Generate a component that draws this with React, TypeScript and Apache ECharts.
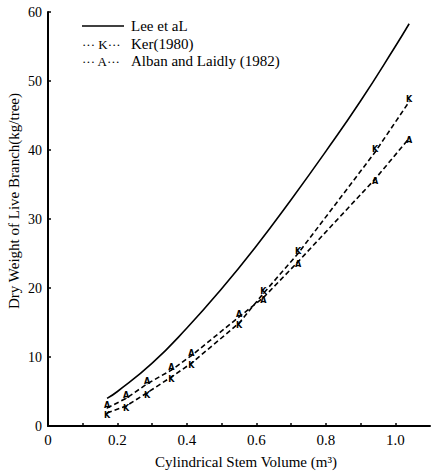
import React, { useEffect, useRef } from "react";
import * as echarts from "echarts";

const leeX = [0.17, 0.2, 0.3, 0.4, 0.5, 0.6, 0.7, 0.8, 0.9, 1.0, 1.04];
const leeValues = [4.0, 5.0, 9.1, 14.2, 19.9, 26.1, 32.8, 39.8, 47.1, 55.0, 58.3];

const sampleX = [0.17, 0.225, 0.285, 0.355, 0.413, 0.55, 0.62, 0.72, 0.942, 1.04];
const kerValues = [1.9, 2.9, 4.8, 7.1, 9.1, 14.9, 19.2, 25.0, 39.7, 47.0];
const albanValues = [2.6, 4.0, 6.1, 8.1, 10.2, 15.8, 18.6, 23.8, 35.8, 41.7];

const xTickLabels = ["0", "0.2", "0.4", "0.6", "0.8", "1.0"];
const yTickLabels = ["0", "10", "20", "30", "40", "50", "60"];

const seriesNames = ["Lee et aL", "Ker(1980)", "Alban and Laidly (1982)"];
const markerLetters = ["K", "A"];

const xName = "Cylindrical Stem Volume (m³)";
const yName = "Dry Weight of Live Branch(kg/tree)";

const SERIF = "Liberation Serif, DejaVu Serif, serif";

export default function App() {
  const ref = useRef<HTMLDivElement>(null);
  useEffect(() => {
    if (!ref.current) return;
    const chart = echarts.init(ref.current, null, { renderer: "svg" });
    const dashedSeries = (name: string, ys: number[], other: number[], letter: string) => ({
      name,
      type: "line",
      data: sampleX.map((x, i) => ({
        value: [x, ys[i]],
        label: { offset: [0, ys[i] >= other[i] ? -2.5 : 2.5] },
      })),
      symbol: "circle",
      symbolSize: 1,
      itemStyle: { color: "#000" },
      lineStyle: { color: "#000", width: 1.6, type: [5, 3] },
      label: {
        show: true,
        position: "inside",
        formatter: letter,
        fontSize: 8,
        fontWeight: "bold",
        fontFamily: "DejaVu Sans, sans-serif",
        color: "#000",
      },
      z: 3,
    });
    chart.setOption({
      animation: false,
      backgroundColor: "#fff",
      grid: { left: 48, right: 1, top: 12, bottom: 46 },
      xAxis: {
        type: "value",
        min: 0,
        max: 1.1,
        interval: 0.1,
        name: xName,
        nameLocation: "middle",
        nameGap: 28,
        nameTextStyle: { fontFamily: SERIF, fontSize: 15, color: "#000", padding: [0, 0, 0, 14] },
        axisLine: { show: true, lineStyle: { color: "#000", width: 2 } },
        axisTick: { show: true, inside: true, length: 3, lineStyle: { color: "#000", width: 1.5 } },
        axisLabel: {
          color: "#000",
          fontFamily: SERIF,
          fontSize: 15,
          margin: 6,
          showMaxLabel: false,
          formatter: (v: number) => {
            const k = Math.round(v * 10);
            if (k % 2 !== 0 || k > 10) return "";
            return xTickLabels[k / 2];
          },
        },
        splitLine: { show: false },
      },
      yAxis: {
        type: "value",
        min: 0,
        max: 60,
        interval: 10,
        axisLine: { show: true, lineStyle: { color: "#000", width: 2 } },
        axisTick: { show: true, inside: true, length: 3, lineStyle: { color: "#000", width: 1.5 } },
        axisLabel: {
          color: "#000",
          fontFamily: SERIF,
          fontSize: 14,
          margin: 6,
          formatter: (v: number) => yTickLabels[Math.round(v / 10)],
        },
        splitLine: { show: false },
      },
      graphic: [
        {
          type: "text",
          x: 14,
          y: 201,
          rotation: Math.PI / 2,
          style: {
            text: yName,
            fontFamily: SERIF,
            fontSize: 15,
            fill: "#000",
            align: "center",
            verticalAlign: "middle",
          },
        },
        {
          type: "line",
          shape: { x1: 82, y1: 26, x2: 124, y2: 26 },
          style: { stroke: "#000", lineWidth: 1.5 },
        },
        {
          type: "text",
          x: 82,
          y: 44,
          style: { text: "··· K···", fontFamily: SERIF, fontSize: 13, fill: "#000", verticalAlign: "middle" },
        },
        {
          type: "text",
          x: 82,
          y: 61,
          style: { text: "··· A···", fontFamily: SERIF, fontSize: 13, fill: "#000", verticalAlign: "middle" },
        },
        ...seriesNames.map((n, i) => ({
          type: "text",
          x: 131,
          y: [26, 44, 61][i],
          style: { text: n, fontFamily: SERIF, fontSize: 15, fill: "#000", verticalAlign: "middle" },
        })),
      ],
      series: [
        {
          name: seriesNames[0],
          type: "line",
          data: leeX.map((x, i) => [x, leeValues[i]]),
          smooth: 0.5,
          showSymbol: false,
          symbol: "none",
          lineStyle: { color: "#000", width: 1.6 },
          z: 2,
        },
        dashedSeries(seriesNames[1], kerValues, albanValues, markerLetters[0]),
        dashedSeries(seriesNames[2], albanValues, kerValues, markerLetters[1]),
      ],
    });
    return () => chart.dispose();
  }, []);
  return <div ref={ref} style={{ width: 431, height: 474, position: "absolute", left: 0, top: 0 }} />;
}
